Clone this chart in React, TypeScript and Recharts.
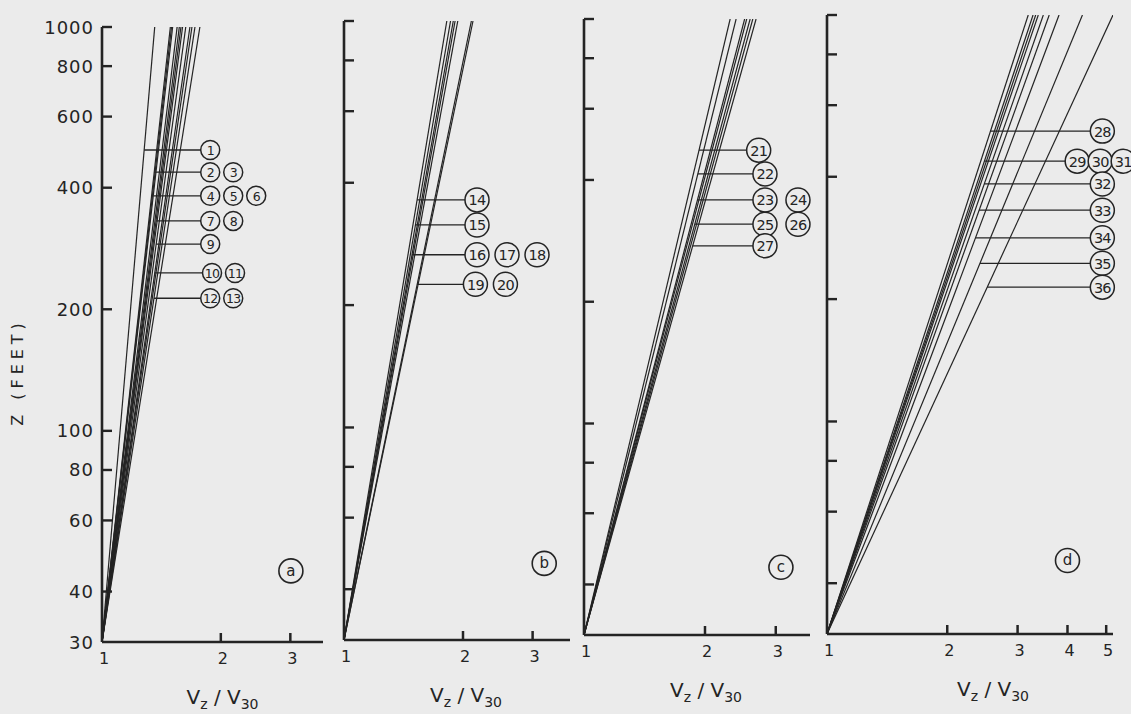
import React from 'react';
import { LineChart, Line, XAxis, YAxis, ReferenceLine, ReferenceDot } from 'recharts';

const BG = '#ebebeb';
const INK = '#242424';
const FONT = '"DejaVu Sans", Verdana, sans-serif';

// shared height axis (feet)
const zDomain = [30, 1000];
const zTicks = [30, 40, 60, 80, 100, 200, 400, 600, 800, 1000];

// ---------- panel a ----------
const curvesA = ['1', '2', '3', '4', '5', '6', '7', '8', '9', '10', '11', '12', '13'];
const v1000A = [1.36, 1.49, 1.5, 1.51, 1.55, 1.57, 1.585, 1.6, 1.63, 1.67, 1.69, 1.72, 1.77];
const leaderLabelsA = [['1'], ['2', '3'], ['4', '5', '6'], ['7', '8'], ['9'], ['10', '11'], ['12', '13']];
const leaderZA = [496, 437, 382, 331, 290, 246, 213];
const leaderXA = [1.88, 1.88, 1.88, 1.88, 1.88, 1.9, 1.88];

// ---------- panel b ----------
const curvesB = ['14', '15', '16', '17', '18', '19', '20'];
const v1000B = [1.82, 1.86, 1.89, 1.91, 1.94, 2.1, 2.12];
const leaderLabelsB = [['14'], ['15'], ['16', '17', '18'], ['19', '20']];
const leaderZB = [363, 315, 266, 225];
const leaderXB = [2.17, 2.17, 2.17, 2.15];

// ---------- panel c ----------
const curvesC = ['21', '22', '23', '24', '25', '26', '27'];
const v1000C = [2.31, 2.39, 2.51, 2.54, 2.59, 2.63, 2.68];
const leaderLabelsC = [['21'], ['22'], ['23', '24'], ['25', '26'], ['27']];
const leaderZC = [474, 414, 357, 311, 275];
const leaderXC = [2.72, 2.82, 2.82, 2.82, 2.82];

// ---------- panel d ----------
const curvesD = ['28', '29', '30', '31', '32', '33', '34', '35', '36'];
const v1000D = [3.19, 3.28, 3.33, 3.38, 3.48, 3.6, 3.81, 4.36, 5.2];
const leaderLabelsD = [['28'], ['29', '30', '31'], ['32'], ['33'], ['34'], ['35'], ['36']];
const leaderZD = [518, 437, 384, 331, 283, 245, 214];
const leaderXD = [4.89, 4.23, 4.89, 4.89, 4.89, 4.89, 4.89];

// panel letters
const panelLetters = ['a', 'b', 'c', 'd'];
const letterX = [3.01, 3.21, 3.09, 4.0];
const letterZ = [45, 46.3, 44.1, 45.5];

const xTicks3 = [1, 2, 3];
const xTicks5 = [1, 2, 3, 4, 5];

type Cfg = {
  left: number; right: number; top: number; bottom: number; xMax: number;
  xTicks: number[]; yLabels: boolean; titleDx: number; r: number; spacing: number; fs: number;
};

const cfgs: Cfg[] = [
  { left: 102, right: 323, top: 27, bottom: 642, xMax: 3.63, xTicks: xTicks3, yLabels: true, titleDx: 10, r: 9.5, spacing: 23, fs: 12.5 },
  { left: 344, right: 570, top: 21, bottom: 640, xMax: 3.73, xTicks: xTicks3, yLabels: false, titleDx: 9, r: 12, spacing: 30, fs: 14.5 },
  { left: 584, right: 810, top: 19, bottom: 635, xMax: 3.65, xTicks: xTicks3, yLabels: false, titleDx: 9, r: 12, spacing: 33, fs: 14.5 },
  { left: 827, right: 1113, top: 15, bottom: 634, xMax: 5.2, xTicks: xTicks5, yLabels: false, titleDx: 23, r: 12, spacing: 23, fs: 14.5 },
];

const W = 1131;
const H = 714;
const AX = 1; // axis box thickness

// point on a straight log-log line from (1,30) to (v1000,1000) at height z
const xOnCurve = (v1000: number, z: number) =>
  Math.pow(v1000, Math.log(z / 30) / Math.log(1000 / 30));

function makeYTick(labels: boolean) {
  return (p: any) => {
    const { x, y, payload } = p;
    const v = payload.value;
    return (
      <g>
        {v !== 30 && <line x1={x} x2={x + 10} y1={y} y2={y} stroke={INK} strokeWidth={2.4} />}
        {labels && (
          <text x={x - 8} y={y} textAnchor="end" dominantBaseline="central" fontFamily={FONT}
            fontSize={18} letterSpacing={1} fill={INK}>{v}</text>
        )}
      </g>
    );
  };
}

const xTick = (p: any) => {
  const { x, y, payload } = p;
  const v = payload.value;
  return (
    <g>
      {v !== 1 && <line x1={x} x2={x} y1={y} y2={y - 9} stroke={INK} strokeWidth={2.5} />}
      <text x={x + 2} y={y + 22} textAnchor="middle" fontFamily={FONT} fontSize={16} fill={INK}>{v}</text>
    </g>
  );
};

function makeXTitle(dx: number) {
  return (p: any) => {
    const vb = p.viewBox || {};
    const cx = vb.x + vb.width / 2 + dx;
    return (
      <text x={cx} y={vb.y + 62} textAnchor="middle" fontFamily={FONT} fontSize={20} fill={INK}>
        <tspan>V</tspan>
        <tspan dy={5} fontSize={14}>z</tspan>
        <tspan dy={-5}> / V</tspan>
        <tspan dy={5} fontSize={14}>30</tspan>
      </text>
    );
  };
}

const yTitle = () => (
  <text x={17} y={372} transform="rotate(-90, 17, 372)" textAnchor="middle" dominantBaseline="central"
    fontFamily={FONT} fontSize={16} letterSpacing={5} fill={INK}>Z (FEET)</text>
);

function Panel(props: {
  idx: number; curves: string[]; tops: number[]; lLabels: string[][]; lZ: number[]; lX: number[];
}) {
  const { idx, curves, tops, lLabels, lZ, lX } = props;
  const cfg = cfgs[idx];
  const margin = { left: cfg.left - AX, right: W - cfg.right, top: cfg.top, bottom: H - cfg.bottom - AX };
  return (
    <div style={{ position: 'absolute', left: 0, top: 0 }}>
      <LineChart width={W} height={H} margin={margin}>
        <XAxis type="number" dataKey="x" scale="log" domain={[1, cfg.xMax]} allowDataOverflow
          ticks={cfg.xTicks} interval={0} height={AX} tickSize={0} tickMargin={0} tickLine={false}
          axisLine={{ stroke: INK, strokeWidth: 2.6 }} tick={xTick} label={makeXTitle(cfg.titleDx)} />
        <YAxis type="number" dataKey="z" scale="log" domain={zDomain} allowDataOverflow
          ticks={zTicks} interval={0} width={AX} tickSize={0} tickMargin={0} tickLine={false}
          axisLine={{ stroke: INK, strokeWidth: 2.6 }} tick={makeYTick(cfg.yLabels)}
          label={cfg.yLabels ? yTitle : undefined} />
        {curves.map((c, i) => (
          <Line key={c} data={[{ x: 1, z: 30 }, { x: tops[i], z: 1000 }]} dataKey="z" type="linear"
            stroke={INK} strokeWidth={1.2} dot={false} activeDot={false} isAnimationActive={false} />
        ))}
        {lLabels.map((ls, i) => {
          const ci = curves.indexOf(ls[0]);
          const xs = xOnCurve(tops[ci], lZ[i]);
          return (
            <ReferenceLine key={'l' + i} segment={[{ x: xs, y: lZ[i] }, { x: lX[i], y: lZ[i] }]}
              stroke={INK} strokeWidth={1.3} ifOverflow="visible" />
          );
        })}
        {lLabels.map((ls, i) => (
          <ReferenceDot key={'d' + i} x={lX[i]} y={lZ[i]} r={cfg.r} ifOverflow="visible"
            shape={(p: any) => (
              <g>
                {ls.map((t, k) => (
                  <g key={t}>
                    <circle cx={p.cx + k * cfg.spacing} cy={p.cy} r={cfg.r} fill={BG} stroke={INK} strokeWidth={1.5} />
                    <text x={p.cx + k * cfg.spacing} y={p.cy + 0.5} textAnchor="middle" dominantBaseline="central"
                      fontFamily={FONT} fontSize={cfg.fs} letterSpacing={-0.8} fill={INK}>{t}</text>
                  </g>
                ))}
              </g>
            )} />
        ))}
        <ReferenceDot x={letterX[idx]} y={letterZ[idx]} r={12} ifOverflow="visible"
          shape={(p: any) => (
            <g>
              <circle cx={p.cx} cy={p.cy} r={12} fill="none" stroke={INK} strokeWidth={1.6} />
              <text x={p.cx} y={p.cy} textAnchor="middle" dominantBaseline="central" fontFamily={FONT}
                fontSize={15} fill={INK}>{panelLetters[idx]}</text>
            </g>
          )} />
      </LineChart>
    </div>
  );
}

export default function App() {
  return (
    <div style={{ position: 'absolute', left: 0, top: 0, width: W, height: H, background: BG, overflow: 'hidden' }}>
      <Panel idx={0} curves={curvesA} tops={v1000A} lLabels={leaderLabelsA} lZ={leaderZA} lX={leaderXA} />
      <Panel idx={1} curves={curvesB} tops={v1000B} lLabels={leaderLabelsB} lZ={leaderZB} lX={leaderXB} />
      <Panel idx={2} curves={curvesC} tops={v1000C} lLabels={leaderLabelsC} lZ={leaderZC} lX={leaderXC} />
      <Panel idx={3} curves={curvesD} tops={v1000D} lLabels={leaderLabelsD} lZ={leaderZD} lX={leaderXD} />
    </div>
  );
}
